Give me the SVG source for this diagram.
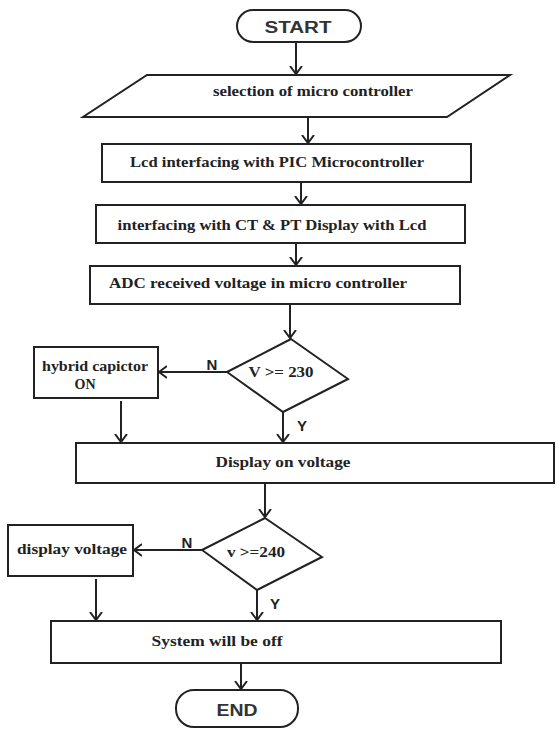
<svg xmlns="http://www.w3.org/2000/svg" width="558" height="729" viewBox="0 0 558 729">
<defs>
<style>
.shape{fill:#fff;stroke:#222;stroke-width:2}
.conn{fill:none;stroke:#222;stroke-width:2}
.sans{font-family:"Liberation Sans",Arial,sans-serif;font-weight:bold;font-size:16px;fill:#333;text-anchor:middle}
.serif{font-family:"Liberation Serif","Times New Roman",serif;font-weight:bold;font-size:14px;fill:#222;text-anchor:middle}
.lbl{font-family:"Liberation Sans",Arial,sans-serif;font-weight:bold;font-size:15px;fill:#222;text-anchor:middle}
</style>
<marker id="arr" markerUnits="userSpaceOnUse" markerWidth="16" markerHeight="16" viewBox="-8 -8 16 16" refX="0" refY="0" orient="auto">
<path d="M-8,-6 L0,0 L-8,6" fill="none" stroke="#222" stroke-width="2"/>
</marker>
</defs>
<rect width="558" height="729" fill="#fff"/>
<g id="connectors">
<line class="conn" x1="296" y1="42" x2="296" y2="74" marker-end="url(#arr)"/>
<line class="conn" x1="308" y1="117" x2="308" y2="143" marker-end="url(#arr)"/>
<line class="conn" x1="301" y1="182" x2="301" y2="204" marker-end="url(#arr)"/>
<line class="conn" x1="296" y1="243" x2="296" y2="265" marker-end="url(#arr)"/>
<line class="conn" x1="290" y1="304" x2="290" y2="338" marker-end="url(#arr)"/>
<line class="conn" x1="227" y1="372" x2="159" y2="372" marker-end="url(#arr)"/>
<line class="conn" x1="283" y1="412" x2="283" y2="442" marker-end="url(#arr)"/>
<line class="conn" x1="121" y1="401" x2="121" y2="442" marker-end="url(#arr)"/>
<line class="conn" x1="265" y1="483" x2="265" y2="517" marker-end="url(#arr)"/>
<line class="conn" x1="202" y1="550" x2="134" y2="550" marker-end="url(#arr)"/>
<line class="conn" x1="257" y1="590" x2="257" y2="620" marker-end="url(#arr)"/>
<line class="conn" x1="96" y1="579" x2="96" y2="620" marker-end="url(#arr)"/>
<line class="conn" x1="241" y1="663" x2="241" y2="689" marker-end="url(#arr)"/>
<text class="lbl" x="212" y="370">N</text>
<text class="lbl" x="302" y="431">Y</text>
<text class="lbl" x="187" y="548">N</text>
<text class="lbl" x="275" y="609">Y</text>
</g>
<g id="start">
<rect class="shape" x="237" y="10" width="124" height="32" rx="16"/>
<text class="sans" x="298" y="33" textLength="67" lengthAdjust="spacingAndGlyphs">START</text>
</g>
<g id="selection">
<polygon class="shape" points="147,75 510,75 447,117 83,117"/>
<text class="serif" x="313" y="96" textLength="200" lengthAdjust="spacingAndGlyphs">selection of micro controller</text>
</g>
<g id="lcd">
<rect class="shape" x="102" y="144" width="369" height="38"/>
<text class="serif" x="277" y="167" textLength="294" lengthAdjust="spacingAndGlyphs">Lcd interfacing with  PIC Microcontroller</text>
</g>
<g id="ctpt">
<rect class="shape" x="96" y="205" width="369" height="38"/>
<text class="serif" x="272" y="230" textLength="309" lengthAdjust="spacingAndGlyphs">interfacing with CT &amp; PT Display with Lcd</text>
</g>
<g id="adc">
<rect class="shape" x="90" y="266" width="370" height="38"/>
<text class="serif" x="258" y="288" textLength="298" lengthAdjust="spacingAndGlyphs">ADC received voltage in micro controller</text>
</g>
<g id="dec230">
<polygon class="shape" points="291,339 348,379 283,412 227,372"/>
<text class="serif" x="281" y="377" textLength="65" lengthAdjust="spacingAndGlyphs">V &gt;= 230</text>
</g>
<g id="hybrid">
<rect class="shape" x="34" y="347" width="124" height="51"/>
<text class="serif" x="95" y="371" textLength="106" lengthAdjust="spacingAndGlyphs">hybrid capictor</text>
<text class="serif" x="85" y="389">ON</text>
</g>
<g id="display">
<rect class="shape" x="76" y="443" width="478" height="40"/>
<text class="serif" x="283" y="467" textLength="135" lengthAdjust="spacingAndGlyphs">Display on voltage</text>
</g>
<g id="dec240">
<polygon class="shape" points="265,518 322,557 257,590 202,550"/>
<text class="serif" x="256" y="557" textLength="58" lengthAdjust="spacingAndGlyphs">v &gt;=240</text>
</g>
<g id="dispvolt">
<rect class="shape" x="8" y="525" width="125" height="51"/>
<text class="serif" x="72" y="554" textLength="110" lengthAdjust="spacingAndGlyphs">display voltage</text>
</g>
<g id="system">
<rect class="shape" x="51" y="621" width="450" height="42"/>
<text class="serif" x="217" y="646" textLength="131" lengthAdjust="spacingAndGlyphs">System will be off</text>
</g>
<g id="end">
<rect class="shape" x="176" y="690" width="122" height="37" rx="18"/>
<text class="sans" x="237" y="716" textLength="41" lengthAdjust="spacingAndGlyphs">END</text>
</g>
</svg>
